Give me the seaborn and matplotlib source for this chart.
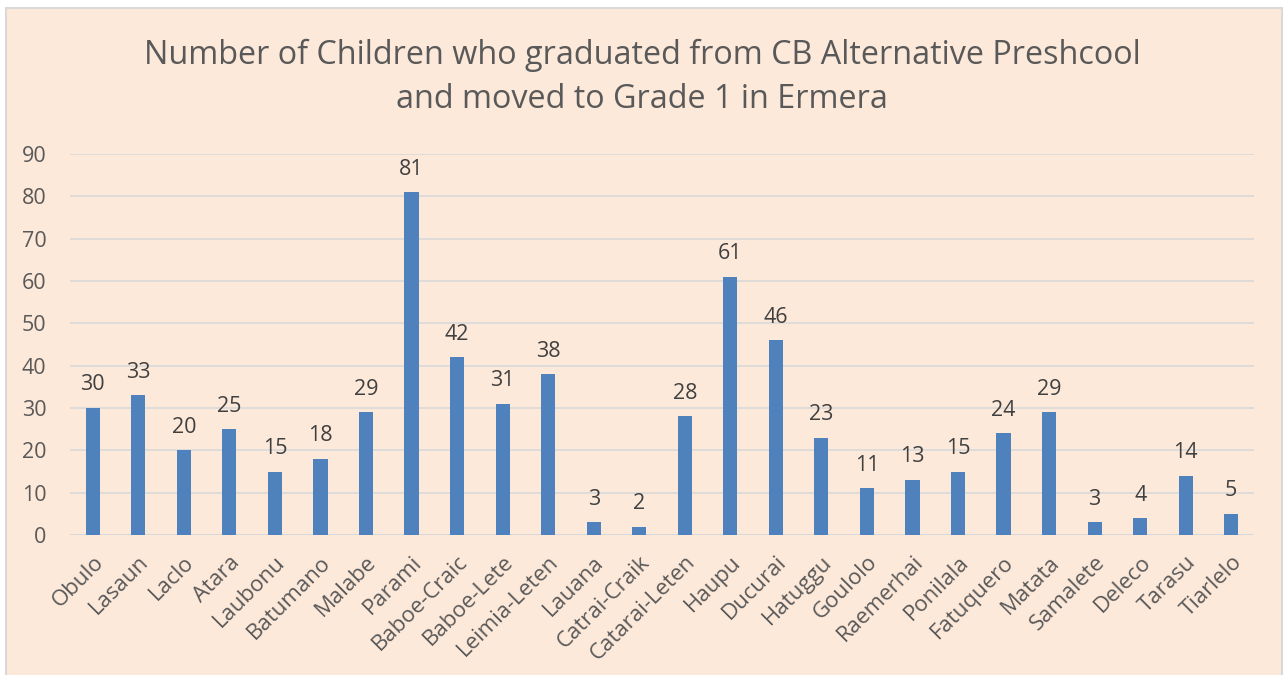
import matplotlib
matplotlib.use("Agg")
import matplotlib.pyplot as plt
import seaborn as sns
import pandas as pd
from matplotlib.patches import Rectangle

villages = ["Obulo", "Lasaun", "Laclo", "Atara", "Laubonu", "Batumano", "Malabe",
            "Parami", "Baboe-Craic", "Baboe-Lete", "Leimia-Leten", "Lauana",
            "Catrai-Craik", "Catarai-Leten", "Haupu", "Ducurai", "Hatuggu",
            "Goulolo", "Raemerhai", "Ponilala", "Fatuquero", "Matata",
            "Samalete", "Deleco", "Tarasu", "Tiarlelo"]
children = [30, 33, 20, 25, 15, 18, 29, 81, 42, 31, 38, 3, 2, 28, 61, 46, 23,
            11, 13, 15, 24, 29, 3, 4, 14, 5]
yticks = [0, 10, 20, 30, 40, 50, 60, 70, 80, 90]

df = pd.DataFrame({"village": villages, "children": children})

bg = "#FDE9DA"
txt = "#595959"

sns.set_theme(style="white")
plt.rcParams['font.family'] = ['Open Sans', 'DejaVu Sans']

fig = plt.figure(figsize=(12.84, 6.75), dpi=100, facecolor="white")

# peach chart area with thin gray border
bg_ax = fig.add_axes([0, 0, 1, 1], zorder=0)
bg_ax.set_axis_off()
bg_ax.add_patch(Rectangle((6 / 1284, -0.01), 1276 / 1284, 1 - 8 / 675 + 0.01,
                          transform=bg_ax.transAxes, facecolor=bg,
                          edgecolor="#D9D9D9", linewidth=1.5))

ax = fig.add_axes([70 / 1284, 1 - 535 / 675, 1184 / 1284, 381 / 675], zorder=1)
ax.patch.set_alpha(0)

sns.barplot(data=df, x="village", y="children", color="#4F81BD", width=0.31,
            saturation=1, edgecolor="none", ax=ax, zorder=3)

for i, v in enumerate(children):
    ax.annotate(str(v), (i, v), xytext=(0, 9), textcoords="offset points",
                ha="center", va="bottom", fontsize=15.5, color="#404040")

ax.set_ylim(0, 90)
ax.set_xlim(-0.5, len(villages) - 0.5)
ax.set_yticks(yticks)
ax.set_yticklabels([str(t) for t in yticks], fontsize=15.5, color=txt)
ax.set_xticks(range(len(villages)))
ax.set_xticklabels(villages, rotation=45, ha="right", rotation_mode="anchor",
                   fontsize=16, color=txt)
ax.tick_params(axis="x", length=0, pad=12)
ax.tick_params(axis="y", length=0, pad=17)
ax.yaxis.grid(True, color="#D9D9D9", linewidth=1.2, zorder=0)
ax.set_axisbelow(True)
for s in ax.spines.values():
    s.set_visible(False)
ax.axhline(0, color="#D9D9D9", linewidth=1.5, zorder=2)
ax.set_xlabel("")
ax.set_ylabel("")

fig.text(0.5, 1 - 55 / 675, "Number of Children who graduated from CB Alternative Preshcool",
         ha="center", va="center", fontsize=23.3, color=txt)
fig.text(0.5, 1 - 100 / 675, "and moved to Grade 1 in Ermera",
         ha="center", va="center", fontsize=23.3, color=txt)

fig.savefig("out.png", dpi=100, facecolor="white")
